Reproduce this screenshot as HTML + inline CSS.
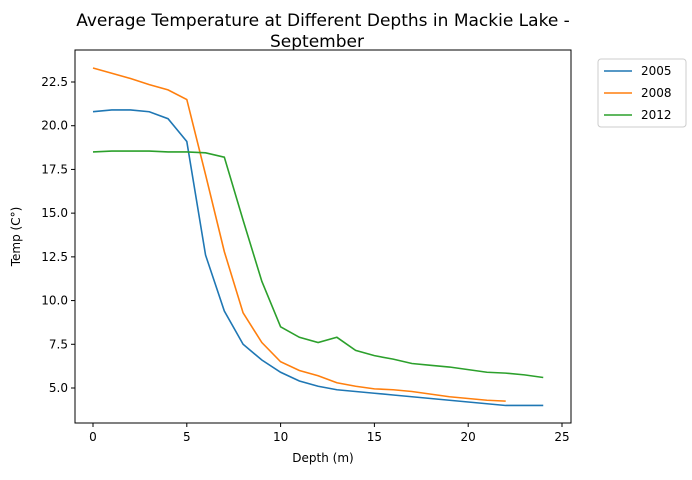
<!DOCTYPE html>
<html><head><meta charset="utf-8"><style>
body{margin:0;background:#fff;font-family:"Liberation Sans","DejaVu Sans",sans-serif;}
</style></head><body>
<svg id="chart" width="692" height="475" xmlns="http://www.w3.org/2000/svg" font-family="DejaVu Sans, Liberation Sans, sans-serif">
<text x="323" y="26" font-size="17" text-anchor="middle">Average Temperature at Different Depths in Mackie Lake -</text>
<text x="317" y="47" font-size="17" text-anchor="middle">September</text>
<g id="plot"></g>
</svg>
<script>
const depths2005=[0,1,2,3,4,5,6,7,8,9,10,11,12,13,14,15,16,17,18,19,20,21,22,23,24];
const temps2005=[20.8,20.9,20.9,20.8,20.4,19.1,12.6,9.4,7.5,6.6,5.9,5.4,5.1,4.9,4.8,4.7,4.6,4.5,4.4,4.3,4.2,4.1,4.0,4.0,4.0];
const depths2008=[0,1,2,3,4,5,6,7,8,9,10,11,12,13,14,15,16,17,18,19,20,21,22];
const temps2008=[23.3,23.0,22.7,22.35,22.05,21.5,17.2,12.8,9.3,7.6,6.5,6.0,5.7,5.3,5.1,4.95,4.9,4.8,4.65,4.5,4.4,4.3,4.25];
const depths2012=[0,1,2,3,4,5,6,7,8,9,10,11,12,13,14,15,16,17,18,19,20,21,22,23,24];
const temps2012=[18.5,18.55,18.55,18.55,18.5,18.5,18.45,18.2,14.6,11.1,8.5,7.9,7.6,7.9,7.15,6.85,6.65,6.4,6.3,6.2,6.05,5.9,5.85,5.75,5.6];
const seriesNames=["2005","2008","2012"];
const xTicks=[0,5,10,15,20,25];
const yTicks=[5.0,7.5,10.0,12.5,15.0,17.5,20.0,22.5];

const NS="http://www.w3.org/2000/svg";
const L=75,R=571,T=50,B=423;
const xs=v=>93+(v-0)*(562-93)/25;
const ys=v=>388-(v-5)*(388-82)/17.5;
const g=document.getElementById('plot');
function mk(tag,attrs){const e=document.createElementNS(NS,tag);for(const k in attrs)e.setAttribute(k,attrs[k]);g.appendChild(e);return e;}
const colors=["#1f77b4","#ff7f0e","#2ca02c"];
const allX=[depths2005,depths2008,depths2012],allY=[temps2005,temps2008,temps2012];
allX.forEach((dx,i)=>{
  const p=mk('polyline',{points:dx.map((d,j)=>xs(d)+','+ys(allY[i][j])).join(' '),fill:'none',stroke:colors[i],'stroke-width':1.6});
  
  
});
const fr=mk('rect',{x:L,y:T,width:R-L,height:B-T,fill:'none',stroke:'#000','stroke-width':1});


xTicks.forEach(t=>{
  mk('line',{x1:xs(t),x2:xs(t),y1:B,y2:B+4,stroke:'#000'});
  const tx=mk('text',{x:xs(t),y:B+18,'font-size':12,'text-anchor':'middle'});tx.textContent=t;
  
  
});
yTicks.forEach(t=>{
  mk('line',{x1:L-4,x2:L,y1:ys(t),y2:ys(t),stroke:'#000'});
  const tx=mk('text',{x:L-7,y:ys(t)+4,'font-size':12,'text-anchor':'end'});tx.textContent=t.toFixed(1);
  
  
});
const xl=mk('text',{x:(L+R)/2,y:462,'font-size':12,'text-anchor':'middle'});xl.textContent='Depth (m)';


const yl=mk('text',{x:0,y:0,'font-size':12,'text-anchor':'middle',transform:'translate(20,'+((T+B)/2)+') rotate(-90)'});yl.textContent='Temp (C°)';


const lg=mk('rect',{x:598,y:59,width:88,height:68,fill:'#fff',stroke:'#ccc',rx:3});


seriesNames.forEach((n,i)=>{
  const y=71+i*22;
  const ln=mk('line',{x1:604,x2:632,y1:y,y2:y,stroke:colors[i],'stroke-width':1.6});
  
  
  const t=mk('text',{x:641,y:y+4,'font-size':12});t.textContent=n;
  
  
});
</script>
</body></html>
